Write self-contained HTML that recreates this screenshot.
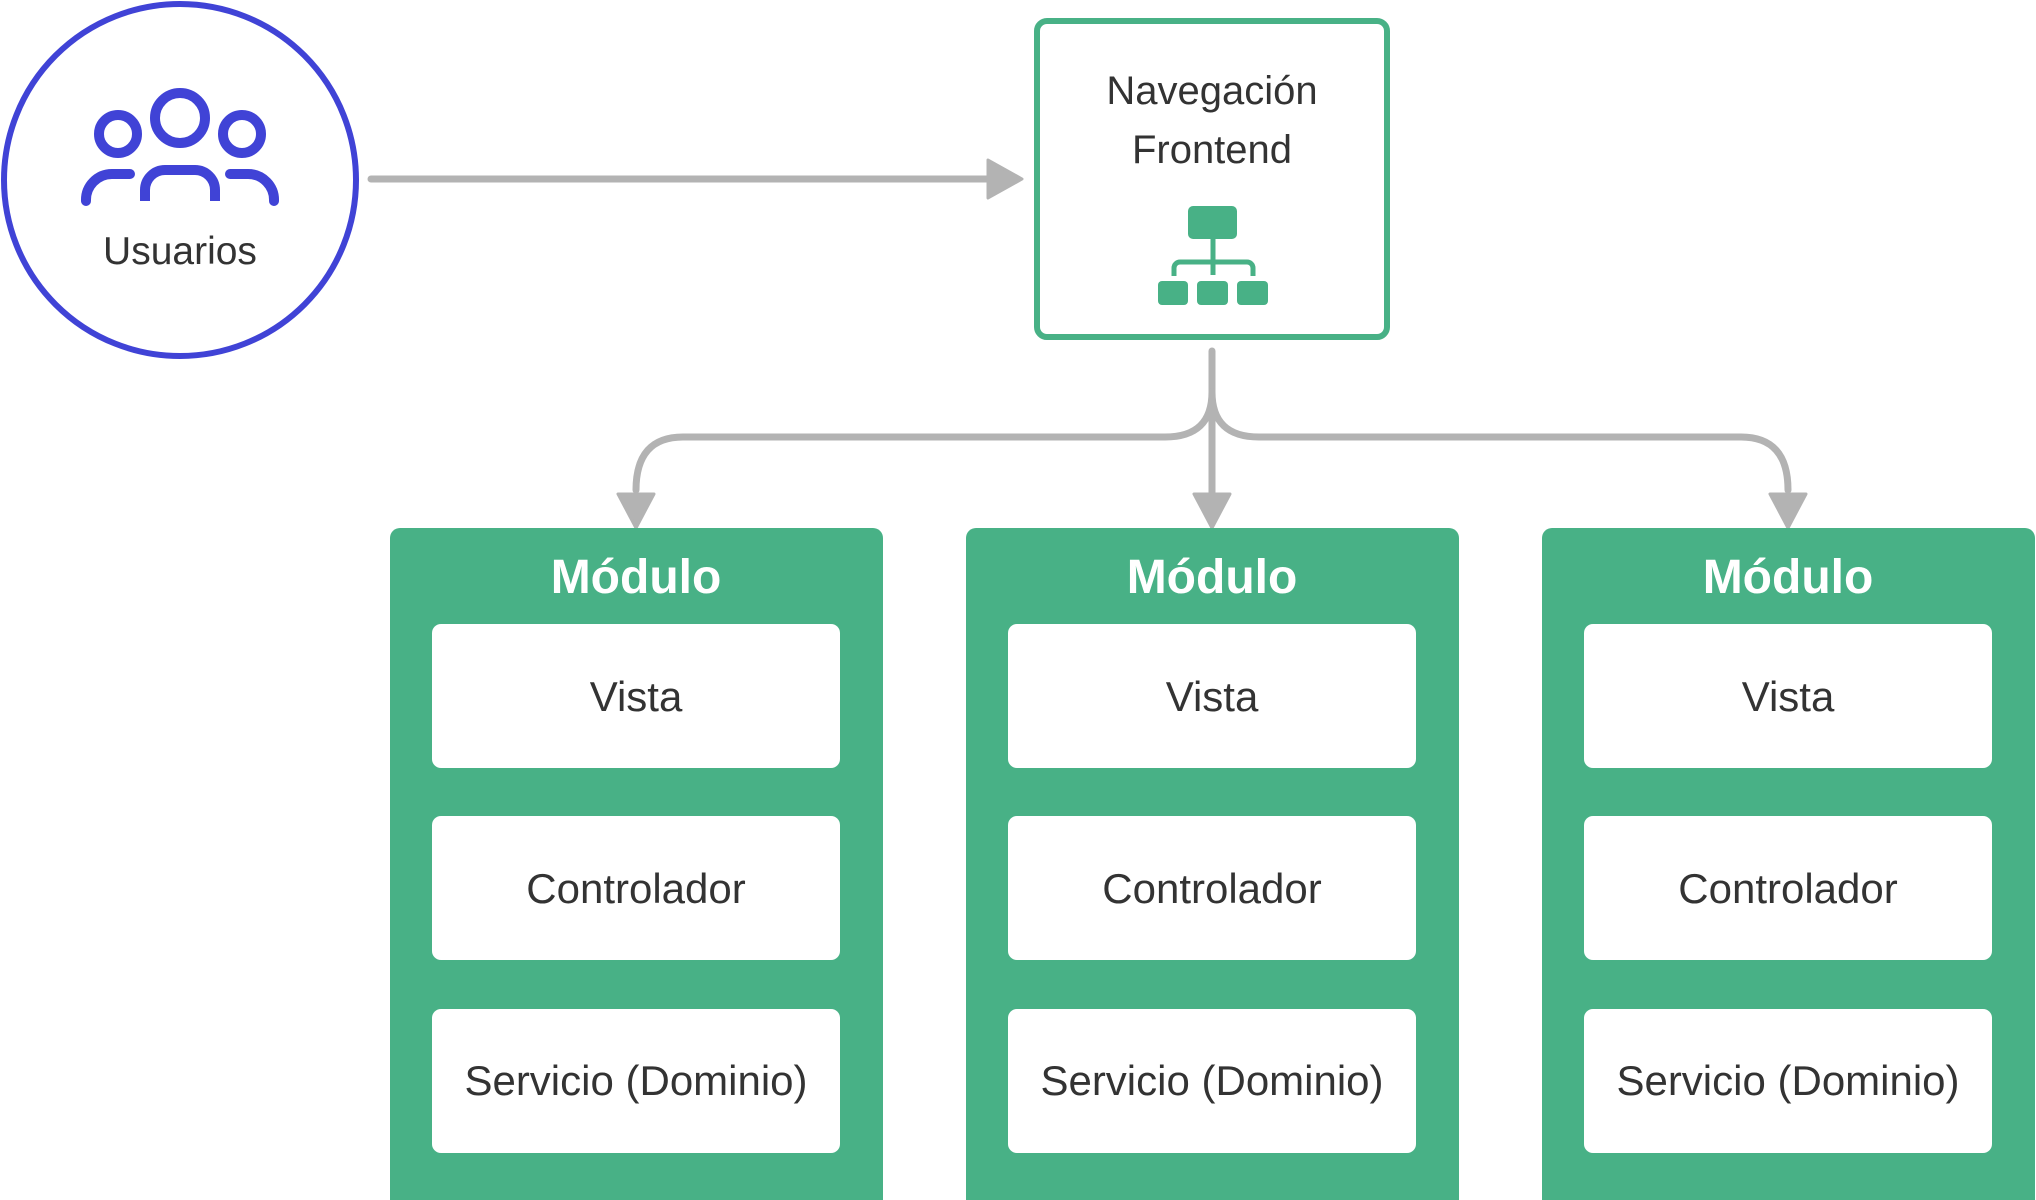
<!DOCTYPE html>
<html><head><meta charset="utf-8"><style>
html,body{margin:0;padding:0;background:#fff;}
svg{display:block}
text{font-family:"Liberation Sans",sans-serif;}
</style></head><body>
<svg width="2036" height="1200" viewBox="0 0 2036 1200" xmlns="http://www.w3.org/2000/svg">
<circle cx="180" cy="180" r="176" fill="#fff" stroke="#4043d6" stroke-width="6"/>
<g fill="none" stroke="#4043d6" stroke-width="10">
<circle cx="180" cy="118" r="25"/>
<circle cx="118" cy="134" r="19"/>
<circle cx="242" cy="134" r="19"/>
<path d="M145 201 V190 a20 20 0 0 1 20 -20 h30 a20 20 0 0 1 20 20 V201"/>
<path d="M86 201 a26 26 0 0 1 26 -27 h18" stroke-linecap="round"/>
<path d="M274 201 a26 26 0 0 0 -26 -27 h-18" stroke-linecap="round"/>
</g>
<text x="180" y="264" font-size="39" fill="#333" text-anchor="middle">Usuarios</text>

<line x1="371" y1="179" x2="990" y2="179" stroke="#b3b3b3" stroke-width="7" stroke-linecap="round"/>
<polygon points="988,160 1022,179 988,198" fill="#b3b3b3" stroke="#b3b3b3" stroke-width="3" stroke-linejoin="round"/>

<rect x="1037" y="21" width="350" height="316" rx="10" fill="#fff" stroke="#48b186" stroke-width="6"/>
<text x="1212" y="104" font-size="40" fill="#333" text-anchor="middle">Navegación</text>
<text x="1212" y="163" font-size="40" fill="#333" text-anchor="middle">Frontend</text>
<g fill="#48b186">
<rect x="1188" y="206" width="49" height="33" rx="5"/>
<rect x="1158" y="281" width="30" height="24" rx="4"/>
<rect x="1197" y="281" width="31" height="24" rx="4"/>
<rect x="1237" y="281" width="31" height="24" rx="4"/>
</g>
<g fill="none" stroke="#48b186" stroke-width="5">
<line x1="1213" y1="239" x2="1213" y2="275"/>
<path d="M1174 276 V268 a6 6 0 0 1 6 -6 H1247 a6 6 0 0 1 6 6 V276"/>
</g>

<g fill="none" stroke="#b3b3b3" stroke-width="7" stroke-linecap="round">
<path d="M1212 351 V392"/>
<path d="M1212 392 Q1212 437 1165 437 H683 Q636 437 636 490"/>
<path d="M1212 392 Q1212 437 1259 437 H1741 Q1788 437 1788 490"/>
<path d="M1212 392 V500"/>
</g>
<g fill="#b3b3b3" stroke="#b3b3b3" stroke-width="3" stroke-linejoin="round">
<polygon points="618,494 654,494 636,528"/>
<polygon points="1194,494 1230,494 1212,528"/>
<polygon points="1770,494 1806,494 1788,528"/>
</g>

<g>
<rect x="390" y="528" width="493" height="690" rx="10" fill="#48b186"/>
<rect x="966" y="528" width="493" height="690" rx="10" fill="#48b186"/>
<rect x="1542" y="528" width="493" height="690" rx="10" fill="#48b186"/>
</g>
<g font-size="48" font-weight="bold" fill="#fff" text-anchor="middle">
<text x="636" y="593">Módulo</text>
<text x="1212" y="593">Módulo</text>
<text x="1788" y="593">Módulo</text>
</g>
<g fill="#fff">
<rect x="432" y="624" width="408" height="144" rx="9"/>
<rect x="432" y="816" width="408" height="144" rx="9"/>
<rect x="432" y="1009" width="408" height="144" rx="9"/>
<rect x="1008" y="624" width="408" height="144" rx="9"/>
<rect x="1008" y="816" width="408" height="144" rx="9"/>
<rect x="1008" y="1009" width="408" height="144" rx="9"/>
<rect x="1584" y="624" width="408" height="144" rx="9"/>
<rect x="1584" y="816" width="408" height="144" rx="9"/>
<rect x="1584" y="1009" width="408" height="144" rx="9"/>
</g>
<g font-size="42" fill="#333" text-anchor="middle">
<text x="636" y="711">Vista</text>
<text x="636" y="903">Controlador</text>
<text x="636" y="1095">Servicio (Dominio)</text>
<text x="1212" y="711">Vista</text>
<text x="1212" y="903">Controlador</text>
<text x="1212" y="1095">Servicio (Dominio)</text>
<text x="1788" y="711">Vista</text>
<text x="1788" y="903">Controlador</text>
<text x="1788" y="1095">Servicio (Dominio)</text>
</g>
</svg>
</body></html>
